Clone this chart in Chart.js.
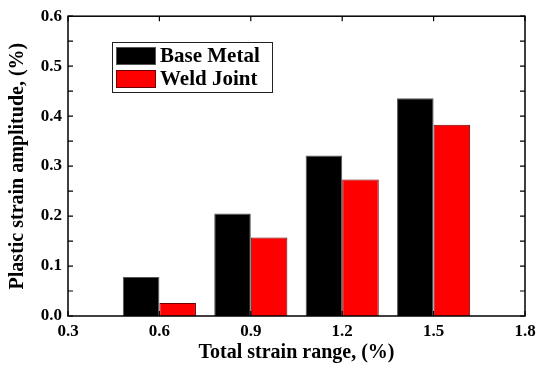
<!DOCTYPE html>
<html lang="en">
<head>
  <meta charset="UTF-8">
  <title>Plastic strain amplitude</title>
  <script src="https://cdn.jsdelivr.net/npm/chart.js"></script>
  <style>
    html, body {
      margin: 0;
      padding: 0;
      background: #fff;
    }
    #wrap {
      width: 542px;
      height: 372px;
    }
  </style>
</head>
<body>
  <div id="wrap"><canvas id="strainChart" width="542" height="372"></canvas></div>

  <script>
    // values
    const strainRange = [0.6, 0.9, 1.2, 1.5];
    const baseMetal = [0.078, 0.205, 0.321, 0.436];
    const weldJoint = [0.026, 0.157, 0.273, 0.383];
    const xTickValues = [0.3, 0.6, 0.9, 1.2, 1.5, 1.8];
    const yTickValues = [0.0, 0.1, 0.2, 0.3, 0.4, 0.5, 0.6];

    const serif = "'Liberation Serif', 'Times New Roman', serif";

    // frame, inward ticks and the boxed legend
    const framePlugin = {
      id: 'frame',
      afterDraw(chart) {
        const { ctx, chartArea: a, scales } = chart;
        ctx.save();
        ctx.strokeStyle = '#000';
        ctx.lineWidth = 1.5;
        ctx.strokeRect(a.left, a.top, a.right - a.left, a.bottom - a.top);

        ctx.lineWidth = 1.2;
        ctx.beginPath();
        xTickValues.forEach(v => {
          const px = scales.x.getPixelForValue(v);
          ctx.moveTo(px, a.bottom); ctx.lineTo(px, a.bottom - 5);
          ctx.moveTo(px, a.top); ctx.lineTo(px, a.top + 5);
        });
        for (let i = 0; i < yTickValues.length * 2 - 1; i++) {
          const py = scales.y.getPixelForValue(i * 0.05);
          ctx.moveTo(a.left, py); ctx.lineTo(a.left + 5, py);
          ctx.moveTo(a.right, py); ctx.lineTo(a.right - 5, py);
        }
        ctx.stroke();

        // legend
        const lx = 112, ly = 42;
        ctx.lineWidth = 1;
        ctx.strokeStyle = '#222';
        ctx.strokeRect(lx + 0.5, ly + 0.5, 160, 50);
        chart.data.datasets.forEach((ds, i) => {
          const sy = ly + 5 + i * 23;
          ctx.fillStyle = ds.backgroundColor;
          ctx.fillRect(lx + 4, sy, 40, 18);
          ctx.strokeStyle = ds.borderColor;
          ctx.strokeRect(lx + 4.5, sy + 0.5, 39, 17);
          ctx.fillStyle = '#000';
          ctx.font = 'bold 21px ' + serif;
          ctx.textBaseline = 'middle';
          ctx.fillText(ds.label, lx + 48, sy + 10);
        });
        ctx.restore();
      }
    };

    const ctx = document.getElementById('strainChart').getContext('2d');
    const strainChart = new Chart(ctx, {
      type: 'bar',
      data: {
        datasets: [{
          label: 'Base Metal',
          data: strainRange.map((x, i) => ({ x: x, y: baseMetal[i] })),
          backgroundColor: '#000000',
          borderColor: '#555555',
          borderWidth: 1,
        }, {
          label: 'Weld Joint',
          data: strainRange.map((x, i) => ({ x: x, y: weldJoint[i] })),
          backgroundColor: '#ff0000',
          borderColor: '#6a0000',
          borderWidth: 1,
        }],
      },
      options: {
        responsive: false,
        animation: false,
        categoryPercentage: 0.8,
        barPercentage: 1.0,
        layout: {
          padding: { top: 13, right: 17, left: 0, bottom: 0 },
        },
        plugins: {
          legend: { display: false },
          tooltip: { enabled: false },
        },
        scales: {
          x: {
            type: 'linear',
            offset: false,
            min: 0.3,
            max: 1.8,
            afterBuildTicks: s => { s.ticks = xTickValues.map(v => ({ value: v })); },
            afterFit: s => { s.height = 56; },
            grid: { display: false, drawTicks: false, offset: false },
            border: { display: false },
            ticks: {
              padding: 5,
              color: '#000',
              font: { family: serif, size: 17, weight: 'bold' },
              callback: v => v.toFixed(1),
            },
            title: {
              display: true,
              text: 'Total strain range, (%)',
              color: '#000',
              font: { family: serif, size: 20, weight: 'bold' },
              padding: { top: 0, bottom: 7 },
            },
          },
          y: {
            min: 0,
            max: 0.6,
            afterBuildTicks: s => { s.ticks = yTickValues.map(v => ({ value: v })); },
            afterFit: s => { s.width = 68; },
            grid: { display: false, drawTicks: false },
            border: { display: false },
            ticks: {
              padding: 6,
              color: '#000',
              font: { family: serif, size: 17, weight: 'bold' },
              callback: v => v.toFixed(1),
            },
            title: {
              display: true,
              text: 'Plastic strain amplitude, (%)',
              color: '#000',
              font: { family: serif, size: 20, weight: 'bold' },
              padding: { top: 6, bottom: 0 },
            },
          },
        },
      },
      plugins: [framePlugin],
    });
  </script>
</body>
</html>
